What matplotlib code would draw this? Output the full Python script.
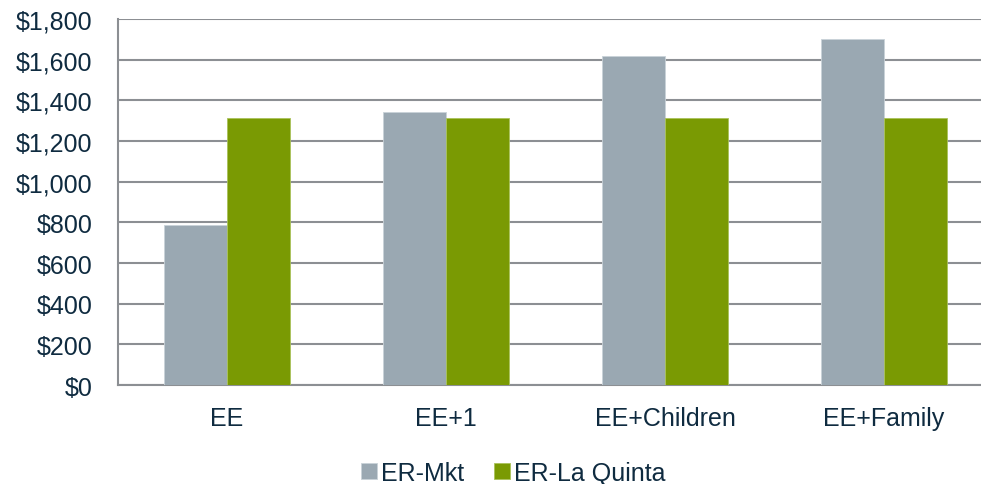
import matplotlib.pyplot as plt
import numpy as np

plt.rcParams['font.family'] = ['Liberation Sans', 'DejaVu Sans']

categories = ['EE', 'EE+1', 'EE+Children', 'EE+Family']
er_mkt = [785, 1342, 1618, 1702]
er_la_quinta = [1312, 1312, 1312, 1312]

text_color = '#0F2B40'
grid_color = '#8C8F93'

fig = plt.figure(figsize=(9.81, 4.85), dpi=100)
# plot area runs a little past the right edge of the canvas
ax = fig.add_axes([0.1198, 0.204, 0.893, 0.755])

x = np.arange(len(categories))
w = 0.287
ax.bar(x - w / 2, er_mkt, w, color='#9AA8B2', edgecolor='#C9D2D8', linewidth=0.6,
       label='ER-Mkt', zorder=3)
ax.bar(x + w / 2, er_la_quinta, w, color='#7A9A03', edgecolor='#A9C25A', linewidth=0.6,
       label='ER-La Quinta', zorder=3)

ax.set_xlim(-0.5, len(categories) - 0.5)
ax.set_ylim(0, 1800)
ax.set_yticks(np.arange(0, 1801, 200))
ax.set_yticklabels(['${:,}'.format(v) for v in range(0, 1801, 200)])
ax.set_xticks(x)
ax.set_xticklabels(categories)
ax.yaxis.grid(True, color=grid_color, linewidth=1.5, zorder=0)
ax.tick_params(length=0, labelsize=18, labelcolor=text_color)
ax.tick_params(axis='x', pad=15)
ax.tick_params(axis='y', pad=18)

for side in ['top', 'right']:
    ax.spines[side].set_visible(False)
for side in ['left', 'bottom']:
    ax.spines[side].set_color(grid_color)
    ax.spines[side].set_linewidth(1.5)

leg = ax.legend(loc='center', bbox_to_anchor=(0.452, -0.24), ncol=2, frameon=False,
                fontsize=18, handlelength=0.64, handleheight=0.64, handletextpad=0.16,
                columnspacing=1.2, borderaxespad=0)
for t in leg.get_texts():
    t.set_color(text_color)

fig.savefig('out.png', dpi=100)
